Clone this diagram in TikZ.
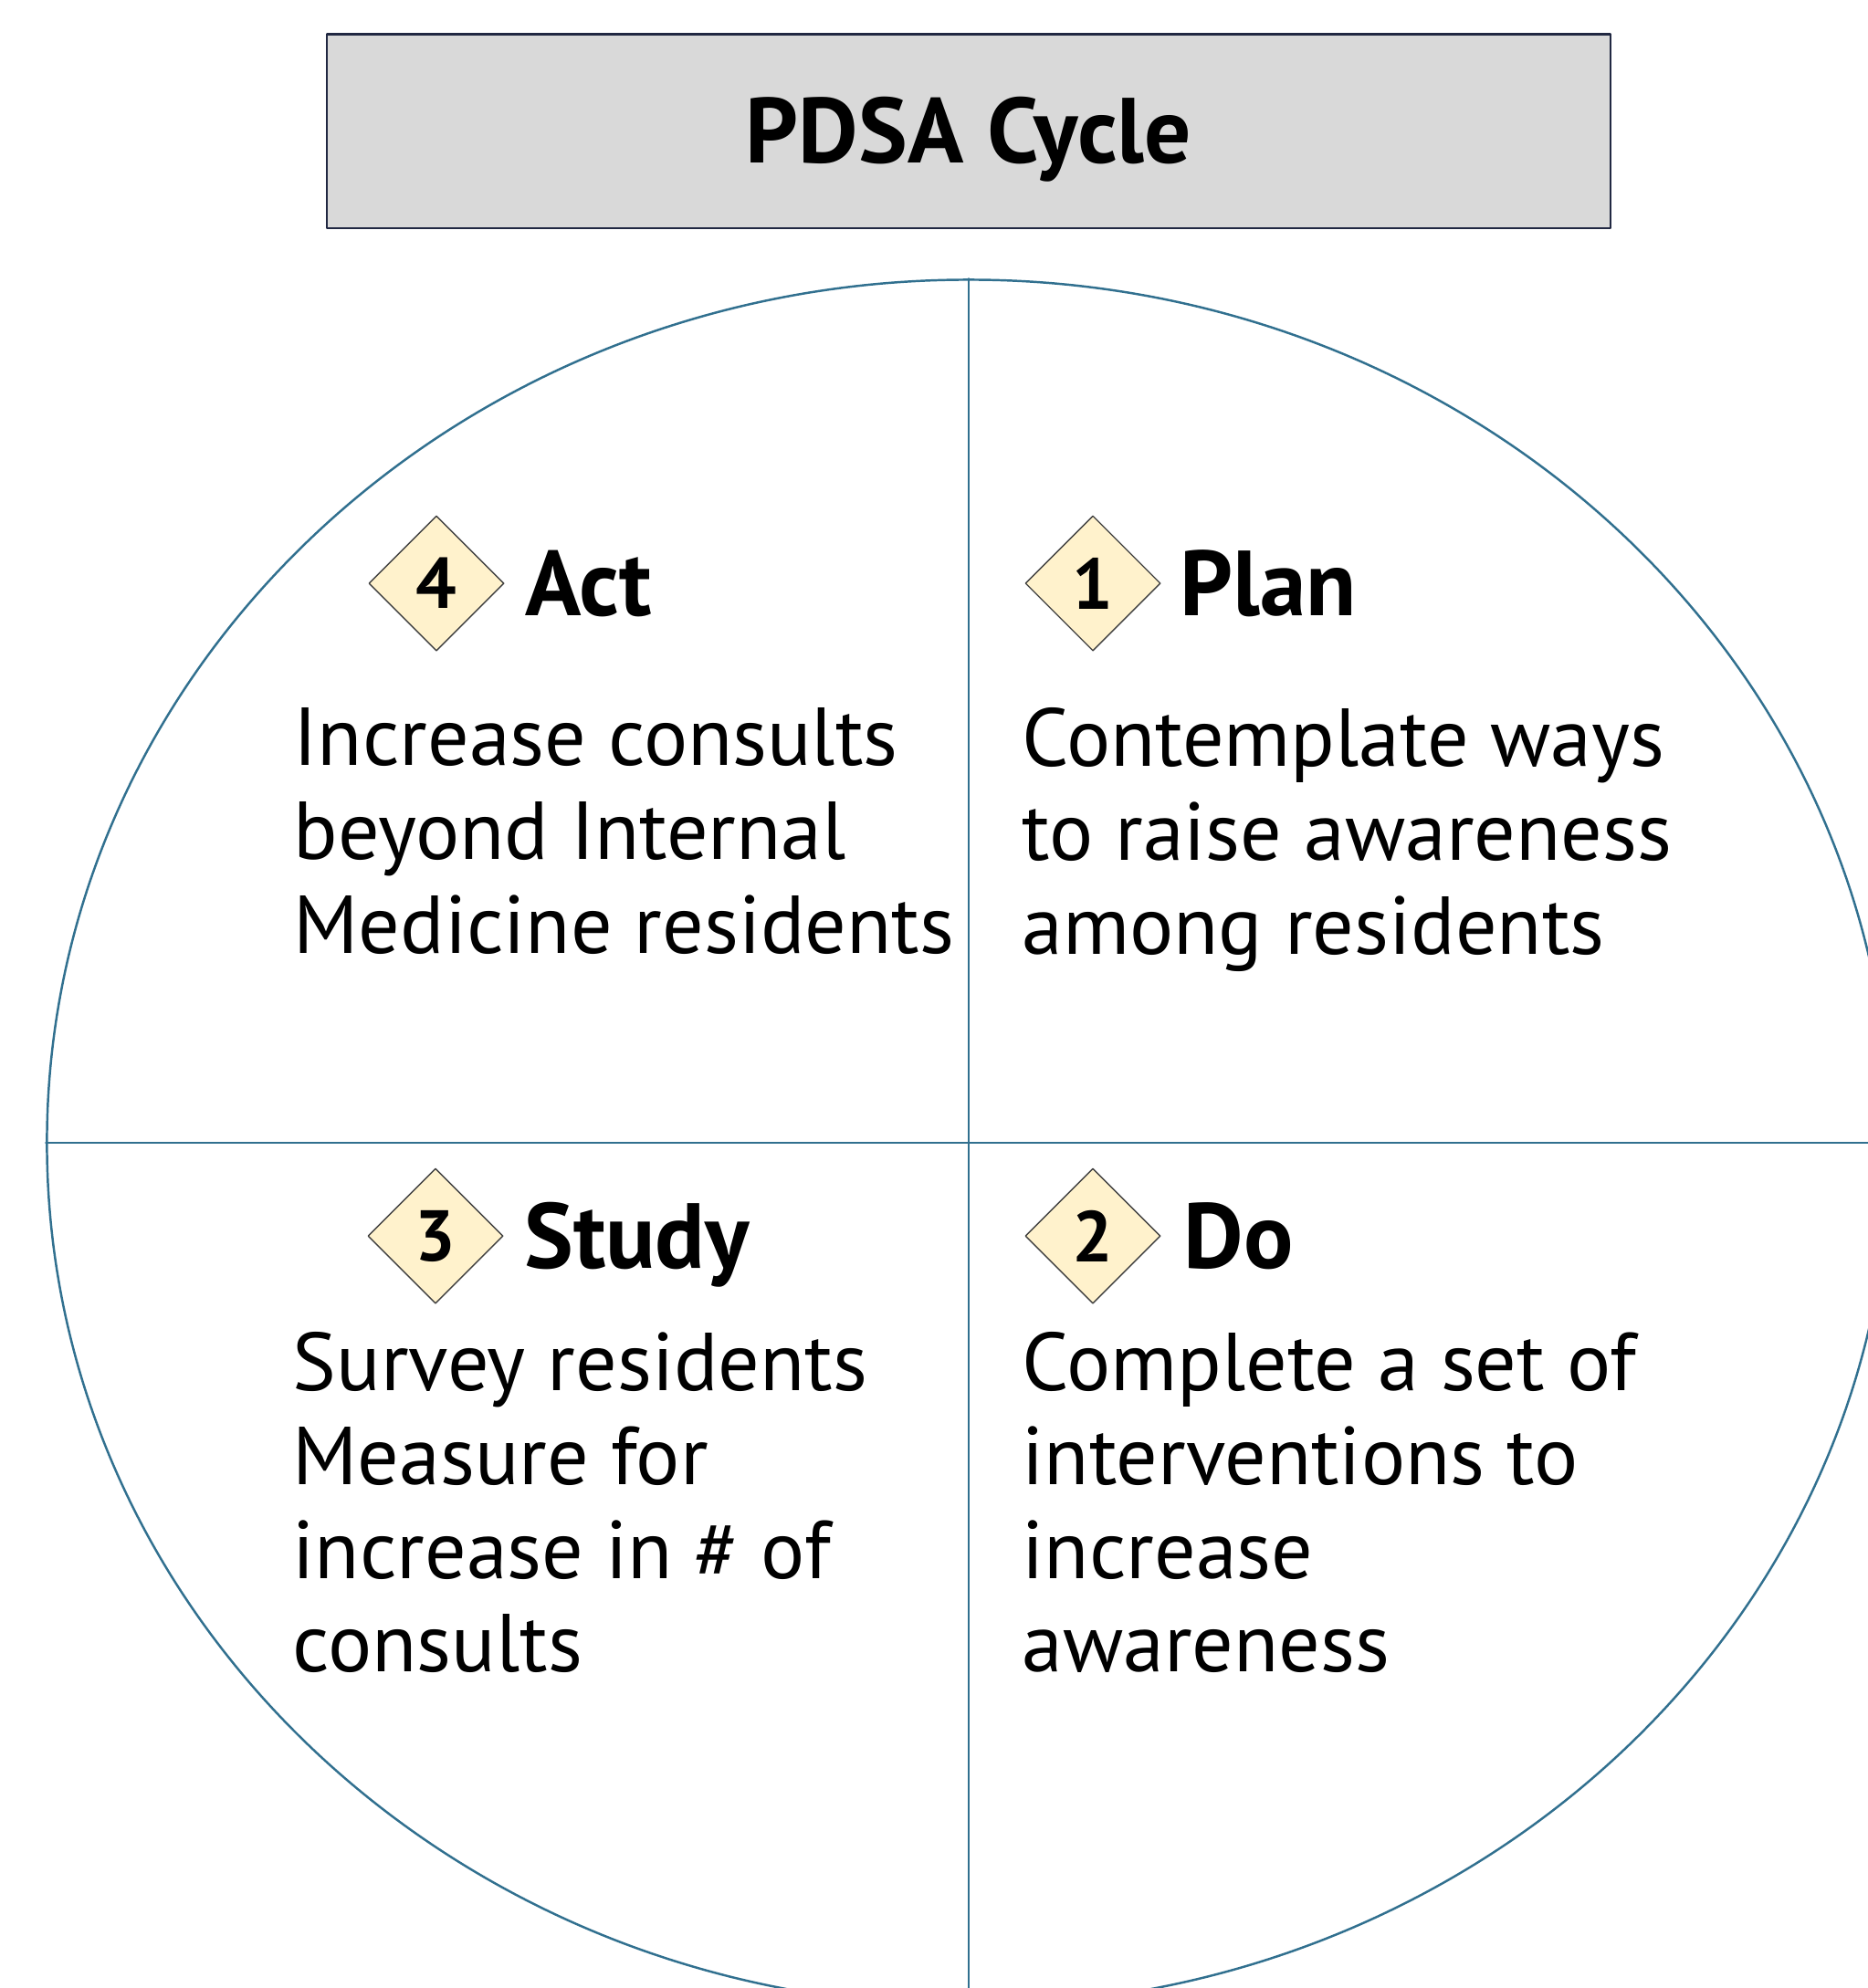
\documentclass[tikz,border=0pt]{standalone}
\usepackage{fontspec}
\setmainfont{PT Sans}
\usetikzlibrary{positioning,shapes.geometric}
\definecolor{rimblue}{RGB}{49,112,143}
\definecolor{titlegray}{RGB}{217,217,217}
\definecolor{titleedge}{RGB}{33,40,66}
\definecolor{stepcream}{RGB}{255,242,204}
\begin{document}
\begin{tikzpicture}[x=0.01cm, y=-0.01cm, line join=round, line cap=round,
	rim/.style={draw=rimblue, line width=0.7pt},
	phase/.style={diamond, draw=black!75, fill=stepcream, line width=0.4pt, inner sep=0pt,
		minimum width=1.48cm, minimum height=1.48cm, font=\fontsize{22.4}{26}\selectfont\bfseries},
	phasename/.style={inner sep=0pt, text height=0.7cm, text depth=0pt,
		font=\fontsize{28.8}{34}\selectfont\bfseries},
	body/.style={anchor=north west, inner sep=0pt, align=left,
		font=\fontsize{25.6}{29.2}\selectfont}]
	\def\cx{1061} \def\cy{1252} % centre of the cycle
	\def\W{2046} \def\H{2178}
	\useasboundingbox (0,0) rectangle (\W,\H);
	\clip (0,0) rectangle (\W,\H);
	% title
	\node[draw=titleedge, fill=titlegray, line width=0.6pt, minimum width=14.06cm, minimum height=2.125cm,
		text height=0.7cm, text depth=0pt, font=\fontsize{28.8}{34}\selectfont\bfseries] (title) at (\cx,143.75) {PDSA Cycle};
	% cycle and quadrants
	\node[ellipse, rim, inner sep=0pt, minimum width=20.18cm, minimum height=18.9cm] (wheel) at (\cx,\cy) {};
	\coordinate (floor) at (\cx,\H);
	\coordinate (edge) at (\W,\cy);
	\draw[rim] (wheel.north) -- (floor);
	\draw[rim] (wheel.west) -- (edge);
	% step markers
	\node[phase] (d4) at (478,639) {4};
	\node[phase] (d1) at (1197,639) {1};
	\node[phase] (d3) at (477,1354) {3};
	\node[phase] (d2) at (1197,1354) {2};
	\node[phasename, right=0.22cm of d4] (act) {Act};
	\node[phasename, right=0.2cm of d1] (plan) {Plan};
	\node[phasename, right=0.22cm of d3] (study) {Study};
	\node[phasename, right=0.24cm of d2] (do) {Do};
	% texts
	\node[body] (actx) at (321,775) {Increase consults\\beyond Internal\\Medicine residents};
	\node[body] (planx) at (1119,775) {Contemplate ways\\to raise awareness\\among residents};
	\node[body] (studyx) at (320,1459) {Survey residents\\Measure for\\increase in \# of\\consults};
	\node[body] (dox) at (1119,1459) {Complete a set of\\interventions to\\increase\\awareness};
\end{tikzpicture}
\end{document}
